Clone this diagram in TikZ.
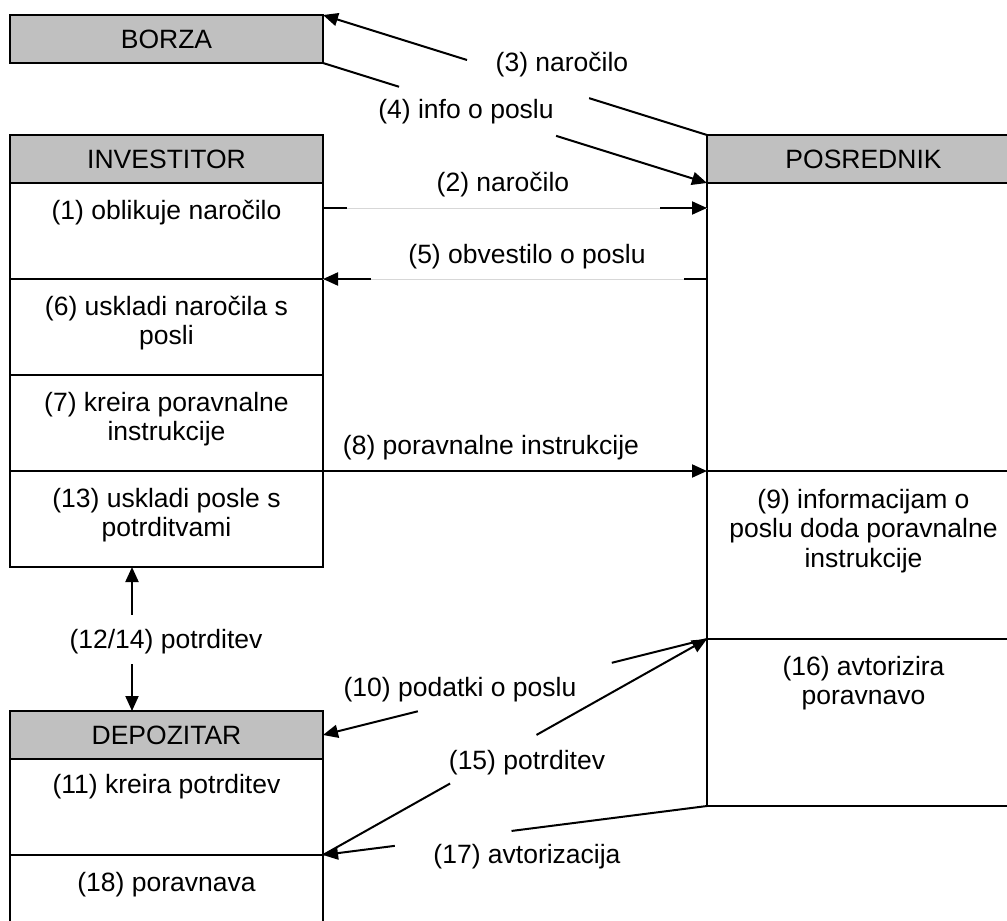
\documentclass[tikz,border=0pt]{standalone}
\usepackage{fontspec}
\setmainfont{Liberation Sans}
\usetikzlibrary{arrows.meta,calc}
\definecolor{hdrgray}{RGB}{192,192,192}
\definecolor{faintline}{RGB}{215,215,215}
\begin{document}
\begin{tikzpicture}[x=1pt,y=-1pt,
  every node/.style={font=\fontsize{26.5}{29.5}\selectfont},
  cell/.style={draw=black, line width=2pt, minimum width=313pt, inner sep=0pt, outer sep=0pt, anchor=north west},
  head/.style={cell, fill=hdrgray, minimum height=48pt},
  celltext/.style={anchor=north, align=center, inner sep=0pt},
  conn/.style={line width=2pt},
  tip/.style={-{Triangle[length=15pt,width=13pt]}},
  lbl/.style={inner sep=0pt},
  faint/.style={draw=faintline, line width=1pt}
]
\useasboundingbox (0,0) rectangle (1007,921);
\fill[white] (0,0) rectangle (1007,921);
\clip (0,0) rectangle (1007,921);

% exchange
\node[head] (borza) at (10,15) {BORZA};

% investor lane
\node[cell, minimum height=96pt] (inv1) at (10,183) {};
\node[cell, minimum height=96pt] (inv6) at (10,279) {};
\node[cell, minimum height=96pt] (inv7) at (10,375) {};
\node[cell, minimum height=96pt] (inv13) at (10,471) {};
\node[head] (inv) at (10,135) {INVESTITOR};

% broker lane
\node[cell, minimum height=288pt] (posa) at (707,183) {};
\node[cell, minimum height=168pt] (pos9) at (707,471) {};
\node[cell, minimum height=167pt] (pos16) at (707,639) {};
\node[head] (pos) at (707,135) {POSREDNIK};

% custodian lane
\node[cell, minimum height=96pt] (dep11) at (10,759) {};
\node[cell, minimum height=96pt] (dep18) at (10,855) {};
\node[head] (dep) at (10,711) {DEPOZITAR};

% cell texts
\node[celltext] (t1) at ($(inv1.north)+(0,17)$) {(1) oblikuje naročilo};
\node[celltext] (t6) at ($(inv6.north)+(0,17)$) {(6) uskladi naročila s\\posli};
\node[celltext] (t7) at ($(inv7.north)+(0,17)$) {(7) kreira poravnalne\\instrukcije};
\node[celltext] (t13) at ($(inv13.north)+(0,17)$) {(13) uskladi posle s\\potrditvami};
\node[celltext] (t9) at ($(pos9.north)+(0,18)$) {(9) informacijam o\\poslu doda poravnalne\\instrukcije};
\node[celltext] (t16) at ($(pos16.north)+(0,17)$) {(16) avtorizira\\poravnavo};
\node[celltext] (t11) at ($(dep11.north)+(0,15)$) {(11) kreira potrditev};
\node[celltext] (t18) at ($(dep18.north)+(0,17)$) {(18) poravnava};

% (3) order to the exchange
\draw[conn] (pos.north west) -- ($(pos.north west)!0.307!(borza.north east)$);
\draw[conn, tip] ($(pos.north west)!0.625!(borza.north east)$) -- (borza.north east);
\node[lbl] (l3) at (562,65) {(3) naročilo};

% (4) trade info back to the broker
\draw[conn] (borza.south east) -- ($(borza.south east)!0.198!(pos.south west)$);
\draw[conn, tip] ($(borza.south east)!0.607!(pos.south west)$) -- (pos.south west);
\node[lbl] (l4) at (466,112) {(4) info o poslu};

% (2) order to the broker
\coordinate (y2) at (0,208);
\coordinate (a2) at (inv1.east |- y2);
\coordinate (b2) at (posa.west |- y2);
\draw[faint] (a2) -- (b2);
\draw[conn] (a2) -- ($(a2)+(24,0)$);
\draw[conn, tip] ($(b2)+(-47,0)$) -- (b2);
\node[lbl] (l2) at (503,185) {(2) naročilo};

% (5) trade notice to the investor
\coordinate (b5) at (posa.west |- inv1.south);
\draw[faint] (b5) -- (inv1.south east);
\draw[conn] (b5) -- ($(b5)+(-23,0)$);
\draw[conn, tip] ($(inv1.south east)+(48,0)$) -- (inv1.south east);
\node[lbl] (l5) at (527,257) {(5) obvestilo o poslu};

% (8) settlement instructions
\draw[conn, tip] (inv13.north east) -- (pos9.north west);
\node[lbl] (l8) at (491,448) {(8) poravnalne instrukcije};

% (10) trade data to the custodian
\draw[conn] (pos9.south west) -- ($(pos9.south west)!0.248!(dep.east)$);
\draw[conn, tip] ($(pos9.south west)!0.753!(dep.east)$) -- (dep.east);
\node[lbl] (l10) at (460,690) {(10) podatki o poslu};

% (15) confirmation to the broker
\draw[conn] (dep11.south east) -- ($(dep11.south east)!0.331!(pos9.south west)$);
\draw[conn, tip] ($(dep11.south east)!0.556!(pos9.south west)$) -- (pos9.south west);
\node[lbl] (l15) at (527,763) {(15) potrditev};

% (17) authorisation to the custodian
\draw[conn] (pos16.south west) -- ($(pos16.south west)!0.509!(dep11.south east)$);
\draw[conn, tip] ($(pos16.south west)!0.813!(dep11.south east)$) -- (dep11.south east);
\node[lbl] (l17) at (527,857) {(17) avtorizacija};

% (12/14) confirmations between investor and custodian
\coordinate (x12) at (132,0);
\coordinate (u12) at (x12 |- inv13.south);
\coordinate (d12) at (x12 |- dep.north);
\draw[conn, tip] ($(u12)!0.333!(d12)$) -- (u12);
\draw[conn, tip] ($(u12)!0.674!(d12)$) -- (d12);
\node[lbl] (l12) at (166,642) {(12/14) potrditev};
\end{tikzpicture}
\end{document}
